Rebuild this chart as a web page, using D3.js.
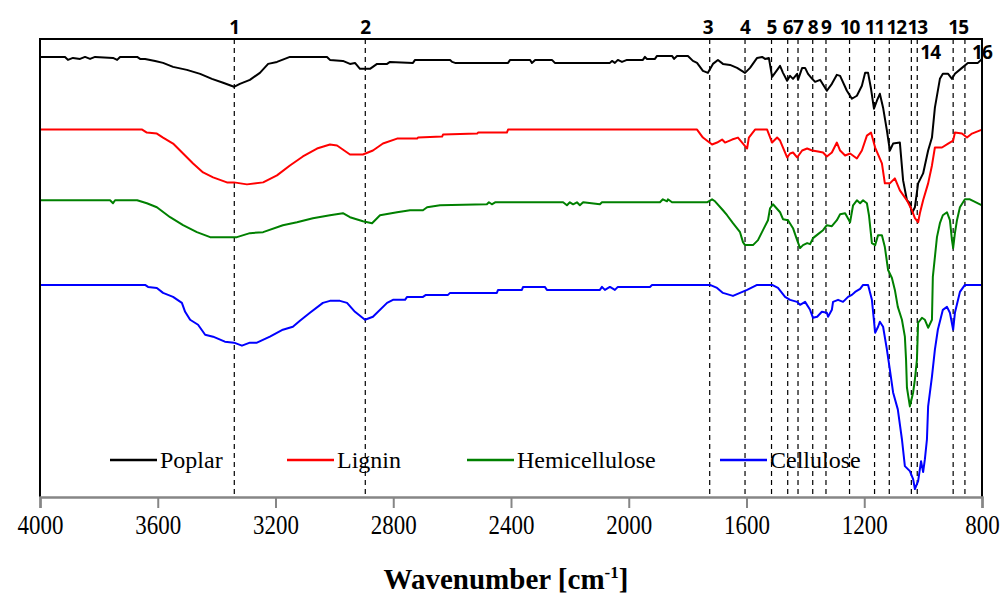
<!DOCTYPE html>
<html>
<head>
<meta charset="utf-8">
<script src="https://cdn.jsdelivr.net/npm/d3@7"></script>
<style>
  body { margin: 0; background: #fff; }
  .tick text { font-family: "Liberation Serif", "Times New Roman", serif; }
</style>
</head>
<body>
<div id="chart"></div>
<script>
// FTIR spectra, offset transmittance (a.u.) vs wavenumber (cm-1)
var poplar = [
  [4000,442],[3915,442],[3905,439],[3888,441],[3864,440],[3847,442],[3830,440],[3813,442],
  [3752,441],[3738,439],[3728,442],[3670,442],[3660,440],[3643,440],[3609,438],[3582,436],
  [3548,432],[3501,429],[3456,425],[3416,420],[3378,416],[3341,412],[3321,415],[3287,419],
  [3253,426],[3225,435],[3195,437],[3151,442],[3025,442],[3015,439],[2971,438],[2947,435],
  [2930,436],[2913,430],[2879,430],[2855,435],[2821,435],[2811,437],[2733,436],[2726,439],
  [2607,439],[2600,437],[2590,436],[2410,436],[2403,439],[2335,439],[2329,436],[2318,439],
  [2261,439],[2251,436],[2064,436],[2057,438],[2047,436],[2037,439],[2023,437],[2006,439],
  [1952,439],[1945,442],[1938,440],[1911,440],[1904,443],[1853,443],[1846,440],[1836,443],
  [1799,443],[1782,438],[1768,436],[1748,428],[1731,426],[1714,435],[1697,439],[1680,435],
  [1656,434],[1632,431],[1605,426],[1588,431],[1564,441],[1547,442],[1537,440],[1524,441],
  [1513,422],[1503,426],[1486,433],[1476,426],[1462,418],[1452,423],[1442,420],[1428,425],
  [1425,419],[1411,431],[1401,431],[1391,425],[1377,420],[1367,417],[1350,419],[1327,408],
  [1310,415],[1293,424],[1282,423],[1259,408],[1242,400],[1225,403],[1208,413],[1197,426],
  [1187,426],[1177,410],[1167,390],[1157,398],[1147,405],[1136,391],[1123,368],[1113,348],
  [1102,355],[1079,356],[1068,318],[1055,298],[1045,295],[1038,285],[1028,291],[1017,315],
  [1000,325],[983,348],[970,361],[960,391],[943,420],[933,425],[915,425],[902,420],
  [892,425],[868,431],[848,436],[814,436],[800,440]
];

var lignin = [
  [4000,369],[3653,369],[3637,366],[3603,365],[3582,361],[3548,355],[3514,345],[3480,335],
  [3446,326],[3412,321],[3365,316],[3341,316],[3297,314],[3242,316],[3195,323],[3151,333],
  [3107,342],[3059,350],[3015,354],[2991,353],[2947,344],[2903,344],[2869,348],[2835,355],
  [2787,360],[2719,360],[2716,361],[2634,362],[2631,364],[2515,365],[2512,366],[2414,366],
  [2410,369],[1768,369],[1748,361],[1717,354],[1700,356],[1683,359],[1673,356],[1649,359],
  [1629,361],[1612,355],[1598,350],[1592,361],[1571,369],[1530,369],[1513,356],[1496,361],
  [1486,358],[1476,351],[1462,341],[1452,345],[1442,346],[1428,341],[1411,348],[1394,350],
  [1377,348],[1357,347],[1340,346],[1327,342],[1310,346],[1293,356],[1282,348],[1265,343],
  [1248,345],[1225,340],[1208,348],[1191,363],[1177,366],[1163,351],[1140,335],[1130,315],
  [1113,315],[1096,320],[1079,308],[1055,298],[1038,288],[1028,280],[1017,276],[1011,285],
  [1000,298],[983,315],[970,333],[960,351],[936,351],[915,355],[898,358],[892,366],
  [868,365],[851,361],[834,365],[800,369]
];

var hemicellulose = [
  [4000,298],[3762,298],[3752,295],[3745,298],[3670,298],[3637,295],[3603,291],[3558,281],
  [3514,273],[3467,266],[3422,261],[3331,261],[3287,265],[3242,266],[3175,273],[3127,276],
  [3073,280],[3015,283],[2971,285],[2947,281],[2903,277],[2872,275],[2845,283],[2787,286],
  [2743,288],[2699,288],[2685,291],[2641,293],[2482,294],[2475,296],[2465,294],[2454,296],
  [2223,296],[2210,293],[2200,296],[2189,294],[2176,296],[2166,293],[2155,296],[2098,294],
  [2091,296],[1894,296],[1884,299],[1870,297],[1867,299],[1853,296],[1734,296],[1717,299],
  [1707,297],[1680,288],[1666,283],[1646,275],[1622,266],[1612,256],[1605,253],[1578,253],
  [1561,258],[1544,268],[1527,278],[1520,290],[1510,294],[1486,286],[1476,279],[1459,278],
  [1442,270],[1428,258],[1418,250],[1408,253],[1394,255],[1384,254],[1374,260],[1357,264],
  [1340,268],[1327,273],[1310,272],[1293,278],[1282,284],[1265,285],[1248,276],[1238,293],
  [1225,298],[1214,295],[1204,298],[1191,295],[1184,283],[1174,255],[1163,253],[1153,263],
  [1140,263],[1130,251],[1119,228],[1106,220],[1096,208],[1086,191],[1072,178],[1062,161],
  [1058,138],[1055,110],[1045,91],[1034,105],[1028,118],[1021,138],[1017,175],[1004,180],
  [994,178],[983,170],[970,178],[967,221],[953,261],[943,275],[933,283],[919,286],
  [909,278],[902,258],[898,250],[892,265],[885,278],[875,291],[858,299],[841,299],[800,293]
];

var cellulose = [
  [4000,213],[3643,213],[3633,211],[3603,210],[3582,205],[3548,201],[3518,195],[3507,186],
  [3490,178],[3463,173],[3439,163],[3412,161],[3372,156],[3341,155],[3314,152],[3287,155],
  [3263,155],[3219,161],[3175,168],[3141,171],[3117,177],[3083,185],[3039,195],[3015,197],
  [2981,197],[2957,195],[2930,186],[2896,178],[2869,181],[2821,195],[2801,198],[2760,198],
  [2753,201],[2699,201],[2689,203],[2614,203],[2607,205],[2448,205],[2444,208],[2363,208],
  [2359,211],[2285,211],[2278,208],[2098,208],[2091,211],[2081,208],[2064,211],[2047,208],
  [2037,211],[1928,211],[1921,213],[1724,213],[1700,210],[1680,205],[1646,202],[1622,205],
  [1598,208],[1564,213],[1513,213],[1493,210],[1469,201],[1452,198],[1428,196],[1418,193],
  [1401,196],[1384,188],[1374,180],[1360,181],[1344,186],[1327,185],[1323,181],[1310,188],
  [1306,196],[1289,198],[1272,196],[1255,201],[1242,203],[1231,206],[1214,209],[1204,213],
  [1187,213],[1174,198],[1163,165],[1153,171],[1147,176],[1136,171],[1123,148],[1113,128],
  [1102,105],[1086,88],[1072,58],[1062,31],[1045,26],[1034,18],[1028,8],[1017,16],
  [1007,36],[1000,25],[994,38],[987,58],[983,91],[970,121],[960,148],[950,168],
  [933,188],[919,191],[909,185],[898,168],[892,185],[875,206],[858,213],[800,213]
];

var seriesNames = ["Poplar", "Lignin", "Hemicellulose", "Cellulose"];
var seriesColors = ["#000000", "#ff0000", "#008000", "#0000ff"];

var peakWavenumbers = [3340, 2895, 1725, 1605, 1515, 1460, 1425, 1375, 1330, 1250, 1165, 1115, 1040, 1020, 898, 858];
var peakLabels = ["1","2","3","4","5","6","7","8","9","10","11","12","13","14","15","16"];

var xTicks = [4000, 3600, 3200, 2800, 2400, 2000, 1600, 1200, 800];

(function() {
  // layout
  var w = 1003, h = 595;
  var plotLeft = 40, plotRight = 982, plotTop = 39, plotBottom = 497;

  var svg = d3.select("#chart").append("svg")
    .attr("width", w)
    .attr("height", h);

  var xScale = d3.scaleLinear().domain([4000, 800]).range([plotLeft, plotRight]);
  var yScale = d3.scaleLinear().domain([0, 459]).range([plotBottom, plotTop + 1]);

  // dashed peak lines
  svg.selectAll(".peak")
    .data(peakWavenumbers)
    .enter().append("line")
    .attr("class", "peak")
    .attr("x1", function(d) { return xScale(d); })
    .attr("x2", function(d) { return xScale(d); })
    .attr("y1", plotTop)
    .attr("y2", plotBottom)
    .attr("stroke", "#000")
    .attr("stroke-width", 1.2)
    .attr("stroke-dasharray", "5,4");

  // label placement: [dx, row]
  var labelPlace = {
    "3": [-2, 0], "12": [7, 0], "13": [6, 0], "14": [13, 1], "15": [5, 0], "16": [17, 1]
  };
  svg.selectAll(".peakLabel")
    .data(peakWavenumbers)
    .enter().append("text")
    .attr("class", "peakLabel")
    .attr("x", function(d, i) {
      var p = labelPlace[peakLabels[i]];
      return xScale(d) + (p ? p[0] : 0);
    })
    .attr("y", function(d, i) {
      var p = labelPlace[peakLabels[i]];
      return (p && p[1] == 1) ? 59 : 34;
    })
    .attr("text-anchor", "middle")
    .style("font-family", "'Open Sans', 'DejaVu Sans', sans-serif")
    .style("font-weight", "bold")
    .style("font-size", "19px")
    .style("letter-spacing", "-1px")
    .text(function(d, i) { return peakLabels[i]; });

  // spectra
  var line = d3.line()
    .x(function(d) { return xScale(d[0]); })
    .y(function(d) { return yScale(d[1]); });

  var allSeries = [poplar, lignin, hemicellulose, cellulose];
  svg.selectAll(".spectrum")
    .data(allSeries)
    .enter().append("path")
    .attr("class", "spectrum")
    .attr("d", line)
    .attr("fill", "none")
    .attr("stroke", function(d, i) { return seriesColors[i]; })
    .attr("stroke-width", 2)
    .attr("stroke-linejoin", "round");

  // frame (top, left, right in black)
  svg.append("path")
    .attr("d", "M" + plotLeft + "," + plotBottom + "V" + plotTop + "H" + plotRight + "V" + plotBottom)
    .attr("fill", "none")
    .attr("stroke", "#000")
    .attr("stroke-width", 2);

  // x axis
  var xAxis = d3.axisBottom(xScale)
    .tickValues(xTicks)
    .tickSize(11)
    .tickPadding(7)
    .tickFormat(d3.format("d"));

  var gx = svg.append("g")
    .attr("transform", "translate(0," + plotBottom + ")")
    .call(xAxis);
  gx.select(".domain").attr("stroke", "#868686").attr("stroke-width", 2.5);
  gx.selectAll(".tick line").attr("stroke", "#868686").attr("stroke-width", 2);
  gx.selectAll(".tick text")
    .attr("fill", "#000")
    .style("font-size", "27px")
    .style("transform-box", "fill-box")
    .style("transform-origin", "center")
    .style("transform", "scaleX(0.85)");

  // axis title
  var title = svg.append("text")
    .attr("x", 506)
    .attr("y", 589)
    .attr("text-anchor", "middle")
    .style("font-family", "'Liberation Serif', 'Times New Roman', serif")
    .style("font-weight", "bold")
    .style("font-size", "29px")
    .text("Wavenumber [cm");
  title.append("tspan").attr("dy", -11).style("font-size", "17px").text("-1");
  title.append("tspan").attr("dy", 11).text("]");

  // legend
  var legendX = [110, 287, 467, 720];
  var legend = svg.selectAll(".legend")
    .data(seriesNames)
    .enter().append("g")
    .attr("class", "legend")
    .attr("transform", function(d, i) { return "translate(" + legendX[i] + ",460)"; });

  legend.append("line")
    .attr("x1", 0)
    .attr("x2", 47)
    .attr("stroke", function(d, i) { return seriesColors[i]; })
    .attr("stroke-width", 2.5);

  legend.append("text")
    .attr("x", 50)
    .attr("y", 8)
    .style("font-family", "'Liberation Serif', 'Times New Roman', serif")
    .style("font-size", "24px")
    .text(function(d) { return d; });
})();
</script>
</body>
</html>
